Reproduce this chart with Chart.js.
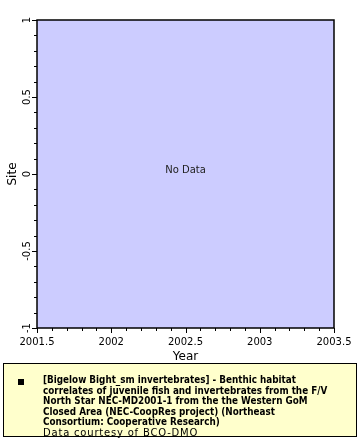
<!DOCTYPE html>
<html>
<head>
<meta charset="utf-8">
<script src="https://cdn.jsdelivr.net/npm/chart.js@4"></script>
<style>
  body { margin: 0; background: #fff; width: 360px; height: 440px; overflow: hidden; font-family: "DejaVu Sans", sans-serif; }
  #wrap { position: absolute; left: 0; top: 0; width: 360px; height: 364px; }
  #legend {
    position: absolute; left: 3px; top: 363px; width: 352px; height: 72px;
    background: #ffffcc; border: 1px solid #000;
  }
  #legend .mark { position: absolute; left: 14px; top: 15px; width: 6px; height: 6px; background: #000; }
  #legend .txt { position: absolute; left: 39px; top: 11px; font-size: 10px; line-height: 10.5px; color: #000; white-space: nowrap; }
  #legend b { font-family: "DejaVu Sans Condensed", "DejaVu Sans", sans-serif; font-weight: bold; font-size: 9.8px; }
  #legend span { letter-spacing: 0.8px; }
</style>
</head>
<body>
<div id="wrap"><canvas id="chart"></canvas></div>
<div id="legend">
  <div class="mark"></div>
  <div class="txt">
    <b>[Bigelow Bight_sm invertebrates] - Benthic habitat<br>
    correlates of juvenile fish and invertebrates from the F/V<br>
    North Star NEC-MD2001-1 from the the Western GoM<br>
    Closed Area (NEC-CoopRes project) (Northeast<br>
    Consortium: Cooperative Research)</b><br>
    <span>Data courtesy of BCO-DMO</span>
  </div>
</div>
<script>
// Datos: no hay puntos para este sitio
const years = [];
const sites = [];
const xRange = [2001.5, 2003.5];
const yRange = [-1, 1];
const xTitle = 'Year';
const yTitle = 'Site';
const emptyMsg = 'No Data';

function isMajor(v) {
  return Math.abs(v * 2 - Math.round(v * 2)) < 1e-6;
}

function fmt(v) {
  const r = Math.round(v * 10) / 10;
  return String(r);
}

// fondo del área de datos, ticks menores/mayores, etiquetas Y giradas y mensaje vacío
const plotDeco = {
  id: 'plotDeco',
  beforeDraw(chart) {
    const { ctx, chartArea: a } = chart;
    ctx.save();
    ctx.fillStyle = '#ccccff';
    ctx.fillRect(a.left, a.top, a.right - a.left, a.bottom - a.top);
    ctx.restore();
  },
  afterDraw(chart) {
    const { ctx, chartArea: a, scales } = chart;
    ctx.save();
    ctx.strokeStyle = '#000';
    ctx.lineWidth = 1;
    ctx.beginPath();
    scales.x.ticks.forEach(t => {
      const px = Math.round(scales.x.getPixelForValue(t.value)) + 0.5;
      const len = isMajor(t.value) ? 5 : 3;
      ctx.moveTo(px, a.bottom);
      ctx.lineTo(px, a.bottom + len);
    });
    scales.y.ticks.forEach(t => {
      const py = Math.round(scales.y.getPixelForValue(t.value)) + 0.5;
      const len = isMajor(t.value) ? 5 : 3;
      ctx.moveTo(a.left, py);
      ctx.lineTo(a.left - len, py);
    });
    ctx.stroke();
    ctx.lineWidth = 1.5;
    ctx.strokeRect(a.left, a.top, a.right - a.left, a.bottom - a.top);

    // etiquetas del eje Y, centradas en cada tick mayor
    ctx.fillStyle = '#000';
    ctx.font = '10px "DejaVu Sans"';
    ctx.textAlign = 'center';
    ctx.textBaseline = 'alphabetic';
    scales.y.ticks.forEach(t => {
      if (!isMajor(t.value)) return;
      const py = scales.y.getPixelForValue(t.value);
      ctx.save();
      ctx.translate(a.left - 7, py);
      ctx.rotate(-Math.PI / 2);
      ctx.fillText(fmt(t.value), 0, 0);
      ctx.restore();
    });

    if (!years.length) {
      ctx.fillStyle = '#222';
      ctx.textBaseline = 'middle';
      ctx.fillText(emptyMsg, (a.left + a.right) / 2, (a.top + a.bottom) / 2 - 4);
    }
    ctx.restore();
  }
};

new Chart(document.getElementById('chart'), {
  type: 'scatter',
  data: {
    datasets: [{
      data: years.map((x, i) => ({ x, y: sites[i] })),
      backgroundColor: '#000'
    }]
  },
  options: {
    responsive: true,
    maintainAspectRatio: false,
    animation: false,
    layout: { padding: { top: 20, right: 26, left: 0, bottom: 0 } },
    plugins: { legend: { display: false }, tooltip: { enabled: false } },
    scales: {
      x: {
        type: 'linear',
        min: xRange[0], max: xRange[1],
        grid: { display: false },
        border: { display: false },
        ticks: {
          stepSize: 0.1, autoSkip: false, maxRotation: 0, padding: 0,
          color: '#000', font: { family: 'DejaVu Sans', size: 10 },
          callback: v => isMajor(v) ? fmt(v) : ''
        },
        title: { display: true, text: xTitle, color: '#000', padding: 0, font: { family: 'DejaVu Sans', size: 12 } },
        afterFit: s => { s.height = 36; }
      },
      y: {
        type: 'linear',
        min: yRange[0], max: yRange[1],
        grid: { display: false },
        border: { display: false },
        ticks: { stepSize: 0.1, autoSkip: false, display: false },
        title: { display: true, text: yTitle, color: '#000', padding: { top: 6, bottom: 0 }, font: { family: 'DejaVu Sans', size: 12 } },
        afterFit: s => { s.width = 37; }
      }
    }
  },
  plugins: [plotDeco]
});
</script>
</body>
</html>
